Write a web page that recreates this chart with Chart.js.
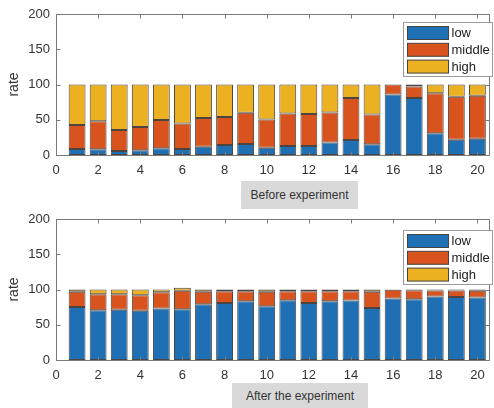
<!DOCTYPE html>
<html>
<head>
<meta charset="utf-8">
<script src="https://cdn.jsdelivr.net/npm/chart.js@4.4.1/dist/chart.umd.min.js"></script>
<style>
	body{margin:0;background:#fff;width:494px;height:408px;overflow:hidden;position:relative;font-family:'Liberation Sans',Arial,sans-serif;}
	canvas{position:absolute;left:0;}
	.etiqueta{position:absolute;background:#d9d9d9;color:#333;font-size:12px;text-align:center;z-index:2;}
</style>
</head>
<body>
<canvas id="grafAntes" style="top:0px"></canvas>
<canvas id="grafDespues" style="top:205px"></canvas>
<div class="etiqueta" style="left:241px;top:181px;width:117px;height:28px;line-height:28px;">Before experiment</div>
<div class="etiqueta" style="left:232px;top:383px;width:136px;height:28px;line-height:26px;">After the experiment</div>

<script>
//	Datos
var Posiciones=[1,2,3,4,5,6,7,8,9,10,11,12,13,14,15,16,17,18,19,20];
var Series=['low','middle','high'];
var TicksX=[0,2,4,6,8,10,12,14,16,18,20];
var TicksY=[0,50,100,150,200];

var AntesBajo=[8.5,8,5.7,6.6,9.4,8.5,11.8,14.2,15.6,10.4,12.7,12.7,17.9,21.2,15.1,85.8,80.7,30.7,21.7,23.1];
var AntesMedio=[34,40,29.7,33,40.1,36.3,40.6,39.6,44.4,40.1,46.3,45.3,42.5,59.5,42.4,14.2,16.5,57,60.8,60.9];
var AntesAlto=[57.5,52,64.6,60.4,50.5,55.2,47.6,46.2,40,49.5,41,42,39.6,19.3,42.5,0,2.8,12.3,17.5,16];

var DespuesBajo=[75.2,70.5,71.4,70,72.9,71.9,79,81,83.3,76.2,84.8,81,83.3,84.3,73.8,87.1,86.2,90,89.5,88.6];
var DespuesMedio=[21.5,22.8,21.9,21.9,23.3,26.2,17.7,16.6,14.3,20.5,12.8,16.6,14.3,13.3,22.9,12.4,12.8,8.6,9.1,9.5];
var DespuesAlto=[3.3,6.7,6.7,8.1,3.8,4.3,3.3,2.4,2.4,3.3,2.4,2.4,2.4,2.4,3.3,0.5,1,1.4,1.4,1.9];

//	Colores estilo matlab
var PaletaColores=['#1f6fb5','#d9531e','#ecb120'];
var ColorEjes='#7a7a7a';

Chart.defaults.font.family="'Liberation Sans', Arial, sans-serif";
Chart.defaults.font.size=13;
Chart.defaults.color='#333';
Chart.defaults.animation=false;

//	Caja de ejes con ticks hacia dentro, y leyenda arriba a la derecha
var pluginCaja={
	id:'caja',
	afterDraw:function(chart,args,opts)
	{
		var ctx=chart.ctx, ca=chart.chartArea;
		var sx=chart.scales.x, sy=chart.scales.y;
		var l=Math.round(ca.left)+0.5, r=Math.round(ca.right)+0.5;
		var t=Math.round(ca.top)+0.5, b=Math.round(ca.bottom)+0.5;
		ctx.save();
		ctx.strokeStyle=ColorEjes;
		ctx.lineWidth=1;
		ctx.beginPath();
		for (var i=0;i<TicksX.length;++i)
		{
			var px=Math.round(sx.getPixelForValue(TicksX[i]))+0.5;
			ctx.moveTo(px,b);ctx.lineTo(px,b-4);
			ctx.moveTo(px,t);ctx.lineTo(px,t+4);
		}
		for (var j=0;j<TicksY.length;++j)
		{
			var py=Math.round(sy.getPixelForValue(TicksY[j]))+0.5;
			ctx.moveTo(l,py);ctx.lineTo(l+4,py);
			ctx.moveTo(r,py);ctx.lineTo(r-4,py);
		}
		//	marco
		ctx.moveTo(l,t);ctx.lineTo(r,t);ctx.lineTo(r,b);ctx.lineTo(l,b);ctx.closePath();
		ctx.stroke();

		//	leyenda
		var x=Math.round(ca.right-opts.dx)+0.5, y=Math.round(ca.top+opts.dy)+0.5;
		var w=89, h=54;
		ctx.fillStyle='#fff';
		ctx.fillRect(x,y,w,h);
		ctx.strokeStyle='#9a9a9a';
		ctx.strokeRect(x,y,w,h);
		ctx.font="13px 'Liberation Sans', Arial, sans-serif";
		ctx.textBaseline='middle';
		var ds=chart.data.datasets;
		for (var k=0;k<ds.length;++k)
		{
			var ry=y+4+k*16.8;
			ctx.fillStyle=ds[k].backgroundColor;
			ctx.fillRect(x+4,ry,41,13);
			ctx.strokeStyle='#444';
			ctx.strokeRect(x+4,ry,41,13);
			ctx.fillStyle='#222';
			ctx.fillText(ds[k].label,x+48,ry+7);
		}
		ctx.restore();
	}
};

//	Prepara un grafico de barras apiladas
function PresentaGrafico(idCanvas,Bajo,Medio,Alto,dyLeyenda)
{
	var valores=[Bajo,Medio,Alto];
	var Datasets=[];
	for (var s=0;s<Series.length;++s)
	{
		var datos=[];
		for (var i=0;i<Posiciones.length;++i)
			datos.push({x:Posiciones[i],y:valores[s][i]});
		Datasets.push({
			label:Series[s],
			data:datos,
			backgroundColor:PaletaColores[s],
			borderColor:'rgba(45,35,30,0.85)',
			borderWidth:1,
			borderSkipped:false,
			categoryPercentage:0.8,
			barPercentage:1
		});
	}

	var cv=document.getElementById(idCanvas);
	cv.width=494; cv.height=180;
	cv.style.width='494px'; cv.style.height='180px';

	return new Chart(cv.getContext('2d'),{
		type:'bar',
		data:{datasets:Datasets},
		plugins:[pluginCaja],
		options:{
			responsive:false,
			devicePixelRatio:1,
			layout:{padding:{top:14,right:5,left:0,bottom:0}},
			plugins:{
				legend:{display:false},
				tooltip:{enabled:false},
				caja:{dx:86,dy:dyLeyenda}
			},
			scales:{
				x:{
					type:'linear',
					stacked:true,
					offset:false,
					min:0,
					max:20.55,
					grid:{display:false,drawTicks:false,offset:false},
					border:{display:false},
					ticks:{stepSize:2,includeBounds:false,padding:8,maxRotation:0,autoSkip:false},
					afterFit:function(scale){scale.height=25;}
				},
				y:{
					stacked:true,
					min:0,
					max:200,
					grid:{display:false,drawTicks:false},
					border:{display:false},
					ticks:{stepSize:50,padding:6},
					title:{display:true,text:'rate',font:{size:14},color:'#333',padding:{top:6,bottom:0}},
					afterFit:function(scale){scale.width=56;}
				}
			}
		}
	});
}

PresentaGrafico('grafAntes',AntesBajo,AntesMedio,AntesAlto,8);
PresentaGrafico('grafDespues',DespuesBajo,DespuesMedio,DespuesAlto,11);
</script>
</body>
</html>
